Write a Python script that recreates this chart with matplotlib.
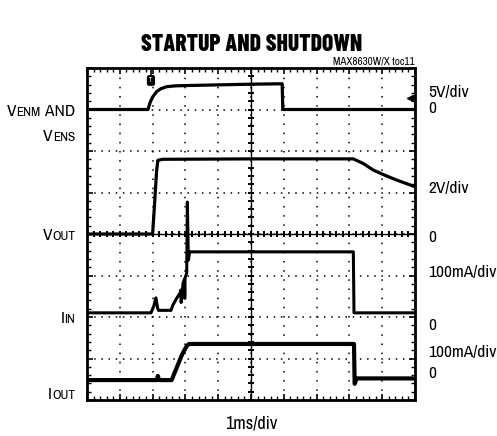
import numpy as np
import matplotlib
matplotlib.use('Agg')
import matplotlib.pyplot as plt

TEXT_FONT = ['Archivo Narrow', 'DejaVu Sans']
TITLE_FONT = ['Barlow Condensed', 'Encode Sans Condensed', 'DejaVu Sans']
plt.rcParams['font.family'] = TEXT_FONT
plt.rcParams['font.stretch'] = 'condensed'

# time axis: 1 ms/div, 10 div; values in physical units
en_t = [0, 1.86, 1.92, 2.0, 2.12, 2.25, 2.43, 2.7, 3.2, 5.0, 5.95, 5.97, 10]
en_v = [0, 0, 0.8, 1.5, 2.15, 2.5, 2.75, 2.85, 2.9, 3.05, 3.1, 0, 0]

vout_t = [0, 2.0, 2.05, 2.12, 2.16, 2.3, 5.0, 8.12, 8.42, 8.73, 9.1, 9.44, 10]
vout_v = [0, 0, 1.2, 3.0, 3.55, 3.6, 3.62, 3.62, 3.4, 3.08, 2.82, 2.6, 2.28]

iin_t = [0, 1.95, 2.04, 2.10, 2.16, 2.18, 2.56, 2.62, 2.74, 2.84, 2.86, 2.87, 2.93,
         2.97, 2.98, 2.99, 3.04, 3.06, 3.09, 3.13, 3.19, 8.12, 8.14, 10]
iin_ma = [0, 0, 17, 36, 9, 6, 6, 19, 36, 48, 55, 25, 72,
          80, 35, 84, 96, 267, 127, 147, 147, 147, 0, 0]

iout_t = [0, 2.13, 2.16, 2.20, 2.58, 2.9, 3.04, 3.11, 8.14, 8.16, 8.22, 10]
iout_ma = [0, 0, 10, 0, 0, 62, 82, 87, 87, -9, 4, 4]

trig_t = 1.95

# channel zero (div from bottom) and scale (units/div)
en_zero, en_scale = 7.0, 5.0
vout_zero, vout_scale = 4.0, 2.0
iin_zero, iin_scale = 2.10, 100.0
iout_zero, iout_scale = 0.48, 100.0

W, H = 497, 436
fig = plt.figure(figsize=(W / 100, H / 100), dpi=100)
ax = fig.add_axes([87 / W, 1 - 400 / H, 328 / W, 332 / H])
ax.set_xlim(0, 10)
ax.set_ylim(0, 8)

# graticule
ax.set_xticks(np.arange(0, 11, 1))
ax.set_yticks(np.arange(0, 9, 1))
ax.set_xticks(np.arange(0, 10.01, 0.2), minor=True)
ax.set_yticks(np.arange(0, 8.01, 0.2), minor=True)
ax.tick_params(which='both', direction='in', top=True, right=True,
               labelbottom=False, labelleft=False, color='black')
ax.tick_params(which='major', length=4, width=1.2)
ax.tick_params(which='minor', length=3, width=1.0)
ax.xaxis.grid(True, which='major', color='black', lw=1.1, linestyle=(0, (1, 5.0)))
ax.yaxis.grid(True, which='major', color='black', lw=1.1, linestyle=(0, (1, 3.7)))
for s in ax.spines.values():
    s.set_linewidth(2.0)

ax.axvline(5, color='black', lw=1.0)
ax.axhline(4, color='black', lw=1.0)
ax.plot(np.full(41, 5.0), np.arange(0, 8.01, 0.2), ls='none', marker='_', ms=5, mew=1.4, color='black')
ax.plot(np.arange(0, 10.01, 0.2), np.full(51, 4.0), ls='none', marker='|', ms=5, mew=1.4, color='black')

# traces
ax.plot(en_t, en_zero + np.array(en_v) / en_scale, color='black', lw=2.3)
ax.plot(vout_t, vout_zero + np.array(vout_v) / vout_scale, color='black', lw=2.3)
ax.plot(iin_t, iin_zero + np.array(iin_ma) / iin_scale, color='black', lw=2.2)
ax.plot(iout_t, iout_zero + np.array(iout_ma) / iout_scale, color='black', lw=3.0)

# scope markers
ax.plot([trig_t, trig_t], [8, 7.78], color='black', lw=1.2)
ax.text(trig_t, 7.7, 'T', color='white', fontsize=5, fontweight='bold', ha='center', va='center',
        bbox=dict(boxstyle='round,pad=0.25', fc='black', ec='black'))
ax.plot([9.85], [en_zero + 0.28], marker='<', ms=5, color='black')
ax.plot([9.85, 10], [en_zero + 0.28, en_zero + 0.28], color='black', lw=1.2)

renderer = fig.canvas.get_renderer()


def fx(x):
    return x / W


def fy(y):
    return 1 - y / H


def fit(t, target_w):
    # scale the font so the text spans the width seen in the reference
    w = t.get_window_extent(renderer).width
    t.set_fontsize(t.get_fontsize() * target_w / w)
    return t.get_fontsize()


title = fig.text(fx(252), fy(45), 'STARTUP AND SHUTDOWN', fontsize=14.5, fontweight=800,
                 family=TITLE_FONT, ha='center', va='center')
fit(title, 221)
toc = fig.text(fx(415), fy(61.5), 'MAX8630W/X toc11', fontsize=8, ha='right', va='center')
fit(toc, 82)
xl = fig.text(fx(251), fy(423), '1ms/div', fontsize=12, ha='center', va='center')
fit(xl, 52)

probe = fig.text(0, 0, '100mA/div', fontsize=12)
lab_size = fit(probe, 68)
probe.remove()

right_labels = [('5V/div', 93), ('0', 108), ('2V/div', 188), ('0', 238),
                ('100mA/div', 273), ('0', 325), ('100mA/div', 352), ('0', 373)]
for txt, y in right_labels:
    fig.text(fx(428), fy(y), txt, fontsize=lab_size, ha='left', va='center')


def rich_label(parts, x_right, y_base):
    items = []
    for s, size in parts:
        t = fig.text(0, fy(y_base), s, fontsize=size, ha='left', va='baseline')
        items.append((t, t.get_window_extent(renderer).width))
    x = x_right - sum(w for _, w in items)
    for t, w in items:
        t.set_x(fx(x))
        x += w


big, small = lab_size, lab_size * 0.77
rich_label([('V', big), ('ENM', small), (' AND', big)], 75, 116)
rich_label([('V', big), ('ENS', small)], 75, 141)
rich_label([('V', big), ('OUT', small)], 75, 240)
rich_label([('I', big), ('IN', small)], 75, 323)
rich_label([('I', big), ('OUT', small)], 75, 399)

fig.savefig('out.png', dpi=100)
